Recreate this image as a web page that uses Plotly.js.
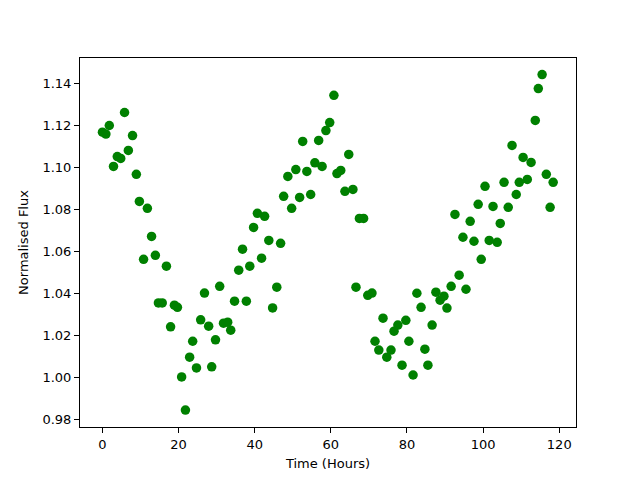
<!DOCTYPE html>
<html>
<head>
<meta charset="utf-8">
<script src="https://cdn.plot.ly/plotly-3.0.1.min.js"></script>
<style>html,body{margin:0;padding:0;background:#fff;}#chart{width:640px;height:480px;}</style>
</head>
<body>
<div id="chart"></div>
<script>
const timeHours = [0.0,0.9,1.8,2.9,3.9,4.8,5.8,6.8,7.9,8.9,9.7,10.8,11.8,12.9,13.9,14.7,15.7,16.8,17.9,18.9,19.7,20.8,21.8,22.9,23.7,24.7,25.8,26.8,27.9,28.7,29.7,30.8,31.8,32.9,33.7,34.7,35.8,36.8,37.8,38.7,39.7,40.7,41.8,42.6,43.7,44.7,45.8,46.8,47.6,48.7,49.7,50.8,51.8,52.6,53.7,54.7,55.8,56.8,57.7,58.7,59.7,60.8,61.6,62.6,63.7,64.7,65.8,66.6,67.5,68.6,69.7,70.8,71.6,72.6,73.7,74.7,75.8,76.6,77.6,78.7,79.7,80.5,81.6,82.6,83.7,84.7,85.5,86.6,87.6,88.7,89.7,90.5,91.6,92.6,93.7,94.7,95.5,96.6,97.6,98.7,99.5,100.5,101.6,102.6,103.7,104.5,105.5,106.6,107.6,108.7,109.5,110.5,111.6,112.6,113.7,114.5,115.5,116.6,117.6,118.4];
const normalisedFlux = [1.1168,1.1159,1.1200,1.1005,1.1052,1.1043,1.1262,1.1081,1.1152,1.0967,1.0838,1.0562,1.0805,1.0671,1.0581,1.0354,1.0354,1.0529,1.0240,1.0343,1.0333,1.0001,0.9843,1.0095,1.0171,1.0044,1.0273,1.0401,1.0243,1.0049,1.0178,1.0433,1.0257,1.0262,1.0224,1.0362,1.0510,1.0610,1.0362,1.0529,1.0714,1.0781,1.0567,1.0767,1.0652,1.0330,1.0429,1.0638,1.0862,1.0957,1.0805,1.0990,1.0857,1.1124,1.0981,1.0871,1.1022,1.1129,1.1005,1.1176,1.1214,1.1344,1.0971,1.0986,1.0886,1.1062,1.0895,1.0429,1.0757,1.0757,1.0390,1.0401,1.0171,1.0129,1.0281,1.0095,1.0129,1.0219,1.0248,1.0057,1.0271,1.0171,1.0010,1.0400,1.0333,1.0133,1.0057,1.0248,1.0405,1.0367,1.0386,1.0329,1.0433,1.0776,1.0486,1.0667,1.0419,1.0743,1.0648,1.0824,1.0562,1.0910,1.0652,1.0814,1.0643,1.0733,1.0929,1.0810,1.1105,1.0871,1.0929,1.1048,1.0943,1.1024,1.1224,1.1376,1.1443,1.0967,1.0810,1.0929];
const xTicks = [0,20,40,60,80,100,120];
const yTicks = [0.98,1.00,1.02,1.04,1.06,1.08,1.10,1.12,1.14];

const font = {family: 'DejaVu Sans, sans-serif', size: 13, color: '#000'};
const axisCommon = {
  showline: true, linecolor: '#000', linewidth: 1, mirror: true,
  ticks: 'outside', ticklen: 5, tickwidth: 1, tickcolor: '#000',
  showgrid: false, zeroline: false, tickfont: font
};
Plotly.newPlot('chart', [{
  x: timeHours, y: normalisedFlux, type: 'scatter', mode: 'markers',
  marker: {color: '#008000', size: 9.5, line: {width: 0}}
}], {
  width: 640, height: 480,
  margin: {l: 80, r: 64, t: 58, b: 53, pad: 0},
  paper_bgcolor: '#fff', plot_bgcolor: '#fff',
  showlegend: false, font: font,
  xaxis: Object.assign({}, axisCommon, {
    range: [-5.9, 124.4], tickvals: xTicks, ticktext: xTicks.map(String),
    title: {text: 'Time (Hours)', font: font, standoff: 8}
  }),
  yaxis: Object.assign({}, axisCommon, {
    range: [0.9762, 1.1522], tickvals: yTicks, ticktext: yTicks.map(v => v.toFixed(2)),
    title: {text: 'Normalised Flux', font: font, standoff: 10}
  })
}, {displayModeBar: false, staticPlot: true});
</script>
</body>
</html>
